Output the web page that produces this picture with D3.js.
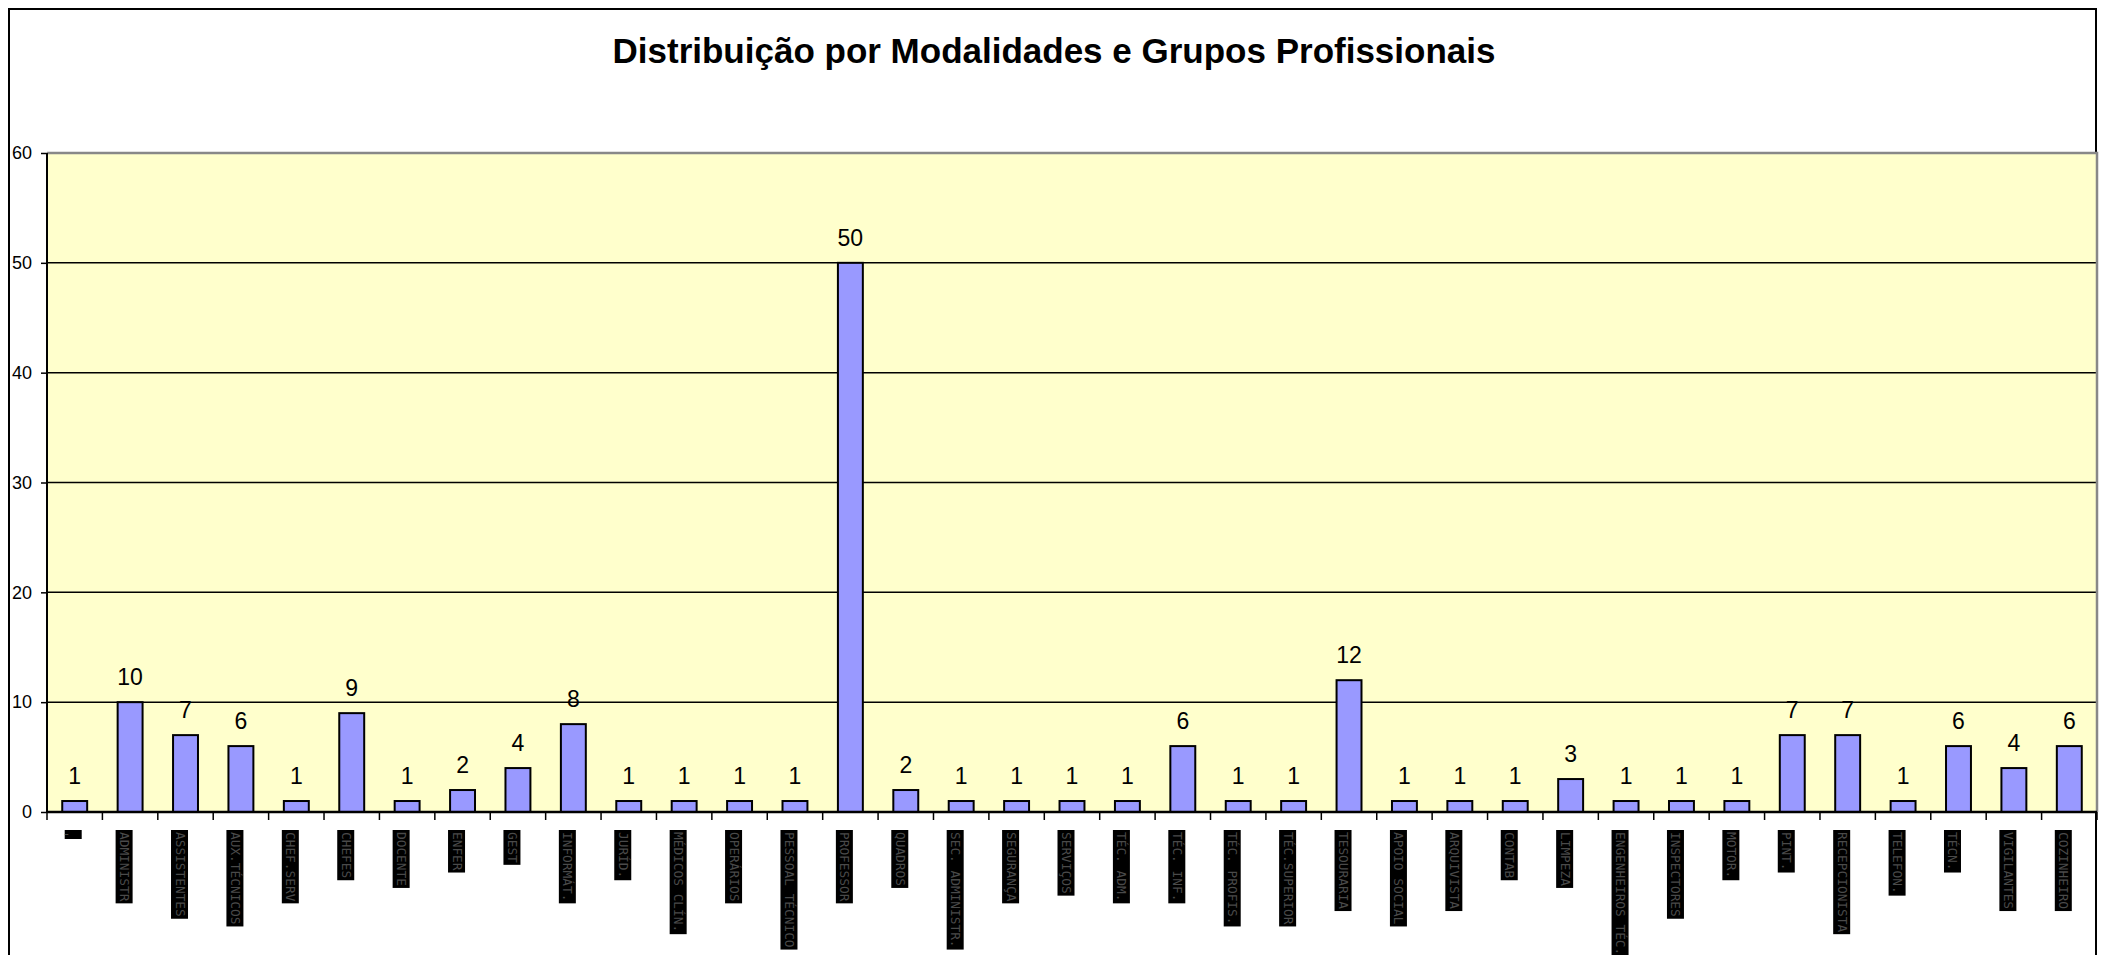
<!DOCTYPE html>
<html>
<head>
<meta charset="utf-8">
<script src="https://cdn.jsdelivr.net/npm/d3@7"></script>
<style>
  body { margin: 0; background: #fff; }
  svg { display: block; }
</style>
</head>
<body>
<svg id="chart"></svg>
<script>
var width = 2107,
    height = 955

var TITLE = "Distribuição por Modalidades e Grupos Profissionais"

// category labels are unreadable in the source picture (garbled glyphs), placeholders of similar length
var categories = ["-", "ADMINISTR", "ASSISTENTES", "AUX.TÉCNICOS", "CHEF.SERV", "CHEFES", "DOCENTE",
    "ENFER", "GEST", "INFORMÁT.", "JURÍD.", "MÉDICOS CLÍN.", "OPERÁRIOS", "PESSOAL TÉCNICO",
    "PROFESSOR", "QUADROS", "SEC. ADMINISTR.", "SEGURANÇA", "SERVIÇOS", "TÉC. ADM.", "TÉC. INF.",
    "TÉC. PROFIS.", "TÉC.SUPERIOR", "TESOURARIA", "APOIO SOCIAL", "ARQUIVISTA", "CONTAB",
    "LIMPEZA", "ENGENHEIROS TÉC.", "INSPECTORES", "MOTOR.", "PINT.", "RECEPCIONISTA",
    "TELEFON.", "TÉCN.", "VIGILANTES", "COZINHEIRO"]

var values = [1, 10, 7, 6, 1, 9, 1, 2, 4, 8, 1, 1, 1, 1, 50, 2, 1, 1, 1, 1, 6, 1, 1, 12, 1, 1, 1, 3, 1, 1, 1, 7, 7, 1, 6, 4, 6]

var yTicks = [0, 10, 20, 30, 40, 50, 60]

var svg = d3.select("#chart")
    .attr("width", width)
    .attr("height", height)

var x0 = 47, x1 = 2097, y0 = 812, y1 = 153

var xScale = d3.scaleBand()
    .domain(d3.range(categories.length))
    .range([x0, x1])
    .paddingInner(0.55)
    .paddingOuter(0.275)

var yScale = d3.scaleLinear()
    .domain([0, 60])
    .range([y0, y1])

// outer chart border
svg.append("path")
    .attr("d", "M9," + (height + 5) + "V9H2096V" + (height + 5))
    .attr("fill", "none")
    .attr("stroke", "#000")
    .attr("stroke-width", 2)

svg.append("text")
    .attr("x", 1054)
    .attr("y", 63)
    .attr("text-anchor", "middle")
    .style("font-family", "Arial, 'Liberation Sans', sans-serif")
    .style("font-weight", "bold")
    .style("font-size", "35px")
    .text(TITLE)

// plot area
svg.append("rect")
    .attr("x", x0)
    .attr("y", y1)
    .attr("width", x1 - x0)
    .attr("height", y0 - y1)
    .attr("fill", "#FFFFCC")

// grid
svg.selectAll(".grid")
    .data(yTicks.filter(function(d) { return d > 0 && d < 60 }))
    .enter()
    .append("line")
    .attr("x1", x0).attr("x2", x1)
    .attr("y1", function(d) { return yScale(d) })
    .attr("y2", function(d) { return yScale(d) })
    .attr("stroke", "#000")
    .attr("stroke-width", 1.5)

// top + right plot border (grey)
svg.append("path")
    .attr("d", "M" + x0 + "," + y1 + "H" + x1 + "V" + y0)
    .attr("fill", "none")
    .attr("stroke", "#888")
    .attr("stroke-width", 2.5)

// bars
svg.selectAll(".bar")
    .data(values)
    .enter()
    .append("rect")
    .attr("class", "bar")
    .attr("x", function(d, i) { return xScale(i) })
    .attr("width", xScale.bandwidth())
    .attr("y", function(d) { return yScale(d) })
    .attr("height", function(d) { return y0 - yScale(d) })
    .attr("fill", "#9999FF")
    .attr("stroke", "#000")
    .attr("stroke-width", 2)

// value labels
svg.selectAll(".val")
    .data(values)
    .enter()
    .append("text")
    .attr("x", function(d, i) { return xScale(i) + xScale.bandwidth() / 2 })
    .attr("y", function(d) { return yScale(d) - 17 })
    .attr("text-anchor", "middle")
    .style("font-family", "Arial, 'Liberation Sans', sans-serif")
    .style("font-size", "23px")
    .text(function(d) { return d })

// y axis
var yAxis = svg.append("g")
    .attr("transform", "translate(" + x0 + ",0)")
    .call(d3.axisLeft(yScale).tickValues(yTicks).tickSize(6).tickPadding(9))
yAxis.select(".domain").attr("stroke-width", 2).attr("d", "M0," + y1 + "V" + y0)
yAxis.selectAll("line").attr("stroke-width", 1.5)
yAxis.selectAll("text")
    .style("font-family", "Arial, 'Liberation Sans', sans-serif")
    .style("font-size", "18px")
    .attr("fill", "#000")

// x axis with ticks between categories
var step = xScale.step()
svg.append("line")
    .attr("x1", x0).attr("x2", x1)
    .attr("y1", y0).attr("y2", y0)
    .attr("stroke", "#000")
    .attr("stroke-width", 2.5)
svg.selectAll(".xtick")
    .data(d3.range(categories.length + 1))
    .enter()
    .append("line")
    .attr("x1", function(k) { return x0 + k * step })
    .attr("x2", function(k) { return x0 + k * step })
    .attr("y1", y0)
    .attr("y2", y0 + 8)
    .attr("stroke", "#000")
    .attr("stroke-width", 1.5)

// category labels: vertical text on black boxes
var lab = svg.selectAll(".lab")
    .data(categories)
    .enter()
    .append("g")
    .attr("transform", function(d, i) {
        return "translate(" + (xScale(i) + xScale.bandwidth() / 2 - 6) + ",830)"
    })

lab.append("rect")
    .attr("fill", "#000")
lab.append("text")
    .attr("transform", "rotate(90)")
    .attr("x", 2)
    .attr("y", 4)
    .attr("fill", "#4a4a4a")
    .style("font-family", "'DejaVu Sans Mono', monospace")
    .style("font-size", "12.8px")
    .text(function(d) { return d })

lab.each(function(d, i) {
    var g = d3.select(this)
    var len = g.select("text").node().getComputedTextLength()
    if (i === 0) {
        // first label is drawn flat in the source
        g.select("text").attr("transform", null).attr("x", -6).attr("y", 8)
        g.select("rect").attr("x", -4).attr("y", 0).attr("width", 17).attr("height", 9)
        return
    }
    g.select("rect")
        .attr("x", -8.5)
        .attr("y", 0)
        .attr("width", 17)
        .attr("height", len + 4)
})
</script>
</body>
</html>
